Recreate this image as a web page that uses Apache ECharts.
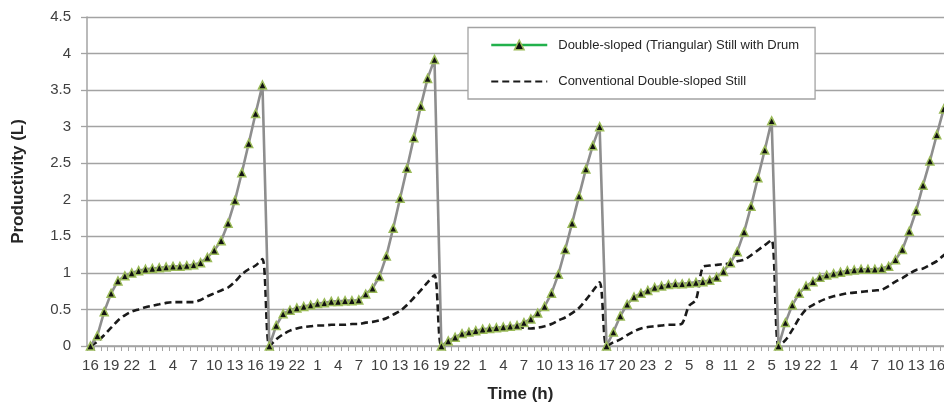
<!DOCTYPE html>
<html><head><meta charset="utf-8">
<script src="https://cdn.jsdelivr.net/npm/echarts@6/dist/echarts.min.js"></script>
<style>html,body{margin:0;padding:0;background:#fff}#wrap{width:944px;height:408px;overflow:hidden;position:relative}#c{position:absolute;left:0;top:0;width:954px;height:408px}</style>
</head><body><div id="wrap"><div id="c"></div></div>
<script>
// Hour labels for each sample (one per hour), per day
const hoursDay1 = ['16','17','18','19','20','21','22','23','0','1','2','3','4','5','6','7','8','9','10','11','12','13','14','15','16','17'];
const hoursDay2 = ['18','19','20','21','22','23','0','1','2','3','4','5','6','7','8','9','10','11','12','13','14','15','16','17','18'];
const hoursDay3 = ['19','20','21','22','23','0','1','2','3','4','5','6','7','8','9','10','11','12','13','14','15','16','17','18'];
const hoursDay4 = ['17','18','19','20','21','22','23','0','1','2','3','4','5','6','7','8','9','10','11','12','1','2','3','4','5'];
const hoursDay5 = ['17','18','19','20','21','22','23','0','1','2','3','4','5','6','7','8','9','10','11','12','13','14','15','16','17','18'];

// Double-sloped (Triangular) Still with Drum, productivity (L)
const drumDay1 = [0,0.14,0.47,0.72,0.89,0.96,1.00,1.03,1.05,1.06,1.07,1.08,1.09,1.09,1.10,1.11,1.14,1.21,1.31,1.44,1.68,1.99,2.37,2.77,3.18,3.57];
const drumDay2 = [0,0.28,0.44,0.49,0.52,0.54,0.56,0.58,0.59,0.61,0.61,0.62,0.62,0.63,0.71,0.79,0.95,1.23,1.61,2.02,2.43,2.85,3.28,3.66,3.92];
const drumDay3 = [0,0.07,0.12,0.17,0.19,0.21,0.23,0.24,0.25,0.26,0.27,0.28,0.32,0.37,0.45,0.54,0.72,0.98,1.32,1.68,2.05,2.42,2.74,3.00];
const drumDay4 = [0,0.19,0.41,0.57,0.67,0.72,0.76,0.80,0.82,0.84,0.85,0.85,0.86,0.87,0.88,0.90,0.94,1.02,1.14,1.29,1.56,1.91,2.30,2.68,3.08];
const drumDay5 = [0,0.32,0.56,0.72,0.82,0.88,0.94,0.97,0.99,1.01,1.03,1.04,1.05,1.05,1.05,1.06,1.09,1.18,1.32,1.57,1.85,2.20,2.53,2.89,3.24,3.60];

// Conventional Double-sloped Still, productivity (L)
const convDay1 = [0,0.06,0.15,0.25,0.35,0.42,0.47,0.50,0.53,0.55,0.57,0.59,0.60,0.60,0.60,0.60,0.63,0.68,0.72,0.76,0.80,0.88,0.98,1.05,1.10,1.19];
const convDay2 = [0,0.09,0.16,0.21,0.24,0.26,0.27,0.28,0.28,0.29,0.29,0.29,0.30,0.30,0.32,0.33,0.35,0.38,0.43,0.48,0.56,0.66,0.76,0.87,0.97];
const convDay3 = [0,0.05,0.10,0.15,0.18,0.20,0.22,0.23,0.24,0.25,0.26,0.26,0.25,0.24,0.25,0.27,0.30,0.35,0.39,0.45,0.52,0.63,0.75,0.87];
const convDay4 = [0,0.05,0.09,0.15,0.20,0.24,0.26,0.27,0.28,0.29,0.29,0.31,0.55,0.63,1.08,1.10,1.11,1.12,1.13,1.16,1.18,1.24,1.31,1.38,1.45];
const convDay5 = [0,0.08,0.22,0.38,0.50,0.56,0.61,0.65,0.68,0.70,0.72,0.73,0.74,0.75,0.76,0.77,0.82,0.88,0.93,0.99,1.04,1.06,1.11,1.16,1.24,1.30];

const seriesNames = ['Double-sloped (Triangular) Still with Drum', 'Conventional Double-sloped Still'];
const axisTitles = { x: 'Time (h)', y: 'Productivity (L)' };

const categories = [].concat(hoursDay1, hoursDay2, hoursDay3, hoursDay4, hoursDay5);
const withDrum = [].concat(drumDay1, drumDay2, drumDay3, drumDay4, drumDay5);
const conventional = [].concat(convDay1, convDay2, convDay3, convDay4, convDay5);

const FONT = 'Liberation Sans, Arial, Helvetica, sans-serif';
const GRID = '#a3a3a3';

const chart = echarts.init(document.getElementById('c'), null, { renderer: 'canvas', width: 954, height: 408 });
chart.setOption({
  animation: false,
  backgroundColor: '#ffffff',
  textStyle: { fontFamily: FONT },
  grid: { left: 87, top: 17, right: 0, bottom: 58, containLabel: false },
  legend: {
    orient: 'vertical',
    left: 468, top: 27.5,
    padding: [11, 16, 11, 22],
    itemWidth: 56, itemHeight: 12, itemGap: 23.5,
    backgroundColor: '#ffffff',
    borderColor: GRID, borderWidth: 1.3,
    textStyle: { fontFamily: FONT, fontSize: 13, color: '#262626', padding: [0, 0, 0, 6] },
    data: [
      { name: seriesNames[0],
        lineStyle: { color: '#22b14c', width: 2.5, type: 'solid' },
        itemStyle: { color: '#111111', borderColor: '#9bbb59', borderWidth: 1.5 } },
      { name: seriesNames[1],
        itemStyle: { color: 'rgba(0,0,0,0)', borderWidth: 0, opacity: 0 } }
    ]
  },
  xAxis: {
    type: 'category',
    data: categories,
    boundaryGap: true,
    name: axisTitles.x,
    nameLocation: 'middle',
    nameGap: 40,
    nameTextStyle: { fontFamily: FONT, fontSize: 17, fontWeight: 'bold', color: '#262626' },
    axisLine: { show: true, lineStyle: { color: GRID, width: 1.5 } },
    axisTick: { show: true, interval: 0, alignWithLabel: false, length: 5, lineStyle: { color: GRID, width: 1 } },
    axisLabel: { interval: 2, margin: 12, fontFamily: FONT, fontSize: 15, color: '#404040', hideOverlap: false },
    splitLine: { show: false }
  },
  yAxis: {
    type: 'value',
    min: 0, max: 4.5, interval: 0.5,
    name: axisTitles.y,
    nameLocation: 'middle',
    nameGap: 60,
    nameRotate: 90,
    nameTextStyle: { fontFamily: FONT, fontSize: 17, fontWeight: 'bold', color: '#262626' },
    axisLine: { show: true, lineStyle: { color: GRID, width: 1.5 } },
    axisTick: { show: true, length: 6, lineStyle: { color: GRID, width: 1.3 } },
    axisLabel: { margin: 16, fontFamily: FONT, fontSize: 15, color: '#404040' },
    splitLine: { show: true, lineStyle: { color: GRID, width: 1.4 } }
  },
  series: [
    {
      name: seriesNames[1],
      type: 'line',
      data: conventional,
      symbol: 'none',
      smooth: 0.3,
      lineStyle: { color: '#1a1a1a', width: 2.6, type: [7, 4] },
      itemStyle: { color: '#1a1a1a' },
      z: 2
    },
    {
      name: seriesNames[0],
      type: 'line',
      data: withDrum,
      symbol: 'triangle',
      symbolSize: 8,
      showAllSymbol: true,
      lineStyle: { color: '#8e8e8e', width: 2.6 },
      itemStyle: { color: '#111111', borderColor: '#9bbb59', borderWidth: 1.5 },
      z: 3
    }
  ]
});
</script>
</body></html>
